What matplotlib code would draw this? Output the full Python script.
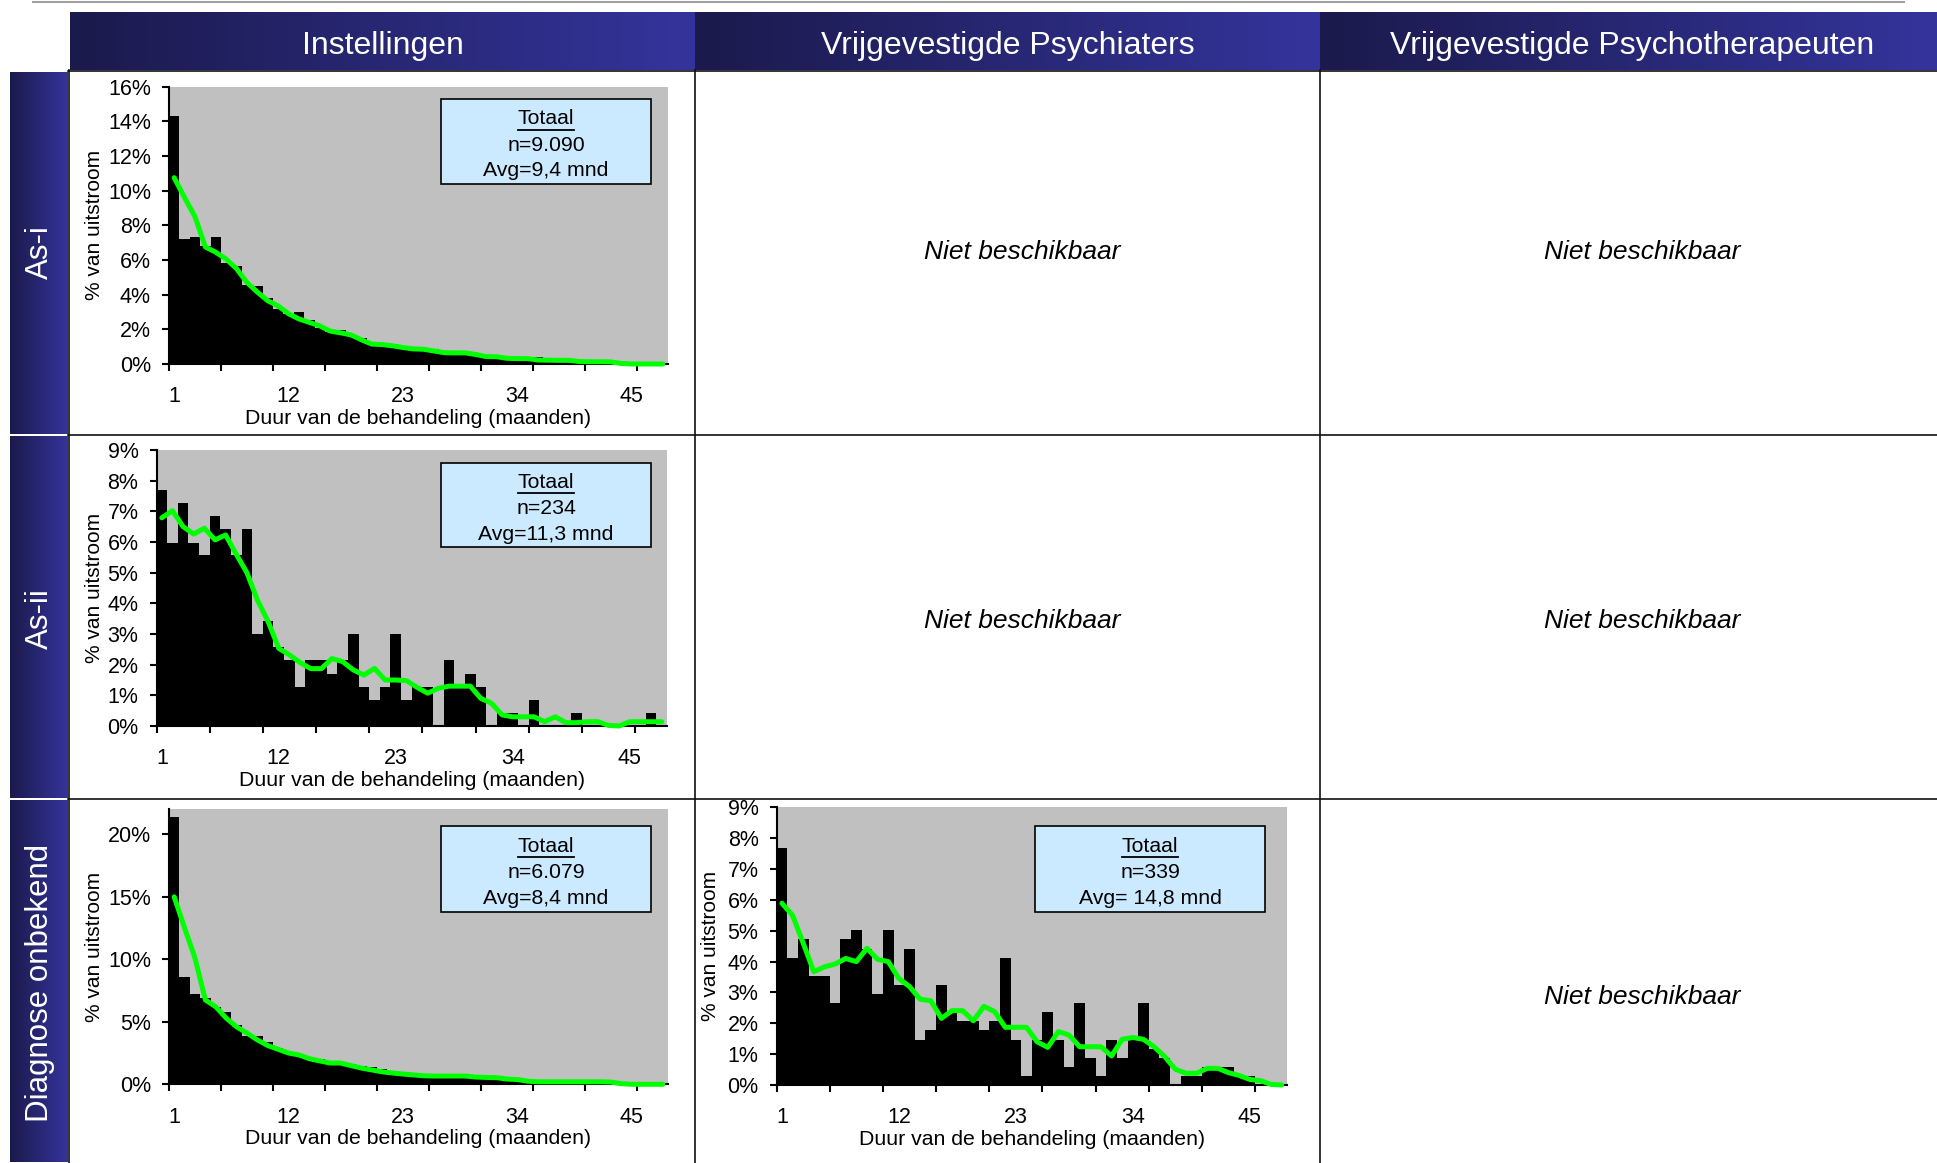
import numpy as np
import matplotlib
matplotlib.use('Agg')
import matplotlib.pyplot as plt
from matplotlib.patches import Rectangle
from matplotlib.lines import Line2D
from matplotlib.colors import LinearSegmentedColormap
from matplotlib.ticker import FuncFormatter

plt.rcParams['font.family'] = ['Liberation Sans', 'DejaVu Sans']

W, H = 1937, 1163

# ---- data (percent of outflow per month of treatment) ----
months = np.arange(1, 49)
xtick_months = [1, 12, 23, 34, 45]

col_titles = ['Instellingen', 'Vrijgevestigde Psychiaters', 'Vrijgevestigde Psychotherapeuten']
row_titles = ['As-i', 'As-ii', 'Diagnose onbekend']

asi_bars = [14.3, 7.2, 7.3, 6.8, 7.3, 5.85, 5.65, 4.55, 4.5, 3.8, 3.15, 2.9, 3.0, 2.55, 2.05, 1.85,
            1.95, 1.65, 1.5, 1.25, 1.15, 1.15, 1.05, 1.0, 0.9, 0.85, 0.75, 0.7, 0.7, 0.6, 0.5, 0.5,
            0.45, 0.35, 0.35, 0.4, 0.25, 0.25, 0.25, 0.2, 0.15, 0.15, 0.1, 0.05, 0.05, 0.05, 0.05, 0.05]
asi_line = [10.75, 9.6, 8.5, 6.75, 6.45, 6.05, 5.5, 4.7, 4.15, 3.65, 3.35, 2.9, 2.6, 2.4, 2.2, 1.9,
            1.8, 1.68, 1.4, 1.15, 1.12, 1.05, 0.95, 0.87, 0.85, 0.75, 0.65, 0.64, 0.64, 0.55, 0.43, 0.42,
            0.33, 0.31, 0.31, 0.23, 0.22, 0.21, 0.21, 0.14, 0.13, 0.13, 0.12, 0.03, 0.0, 0.0, 0.0, 0.0]

asii_bars = [7.69, 5.98, 7.26, 5.98, 5.56, 6.84, 6.41, 5.56, 6.41, 2.99, 3.42, 2.56, 2.14, 1.28, 2.14, 2.14,
             1.71, 2.14, 2.99, 1.28, 0.85, 1.28, 2.99, 0.85, 1.28, 1.28, 0, 2.14, 1.28, 1.71, 1.28, 0,
             0.43, 0.43, 0, 0.85, 0, 0, 0, 0.43, 0, 0, 0, 0, 0, 0, 0.43, 0]
asii_line = [6.79, 7.02, 6.5, 6.26, 6.45, 6.07, 6.23, 5.6, 5.0, 4.1, 3.4, 2.53, 2.32, 2.07, 1.87, 1.87,
             2.2, 2.1, 1.83, 1.66, 1.88, 1.5, 1.5, 1.48, 1.26, 1.07, 1.23, 1.3, 1.3, 1.3, 0.9, 0.74,
             0.36, 0.3, 0.3, 0.3, 0.14, 0.3, 0.11, 0.11, 0.14, 0.14, 0.02, 0.0, 0.14, 0.14, 0.14, 0.14]

onb_inst_bars = [21.36, 8.61, 7.2, 6.9, 6.2, 5.76, 4.75, 3.9, 3.87, 3.36, 2.9, 2.5, 2.3, 2.1, 2.0, 1.85,
                 1.8, 1.65, 1.5, 1.35, 1.2, 1.05, 0.93, 0.82, 0.8, 0.75, 0.7, 0.7, 0.6, 0.55, 0.5, 0.45,
                 0.35, 0.3, 0.25, 0.2, 0.2, 0.15, 0.15, 0.15, 0.1, 0.1, 0.1, 0.05, 0.05, 0.05, 0.05, 0.05]
onb_inst_line = [15.0, 12.5, 10.1, 6.75, 6.2, 5.3, 4.6, 4.1, 3.55, 3.1, 2.8, 2.5, 2.35, 2.05, 1.87, 1.7,
                 1.7, 1.5, 1.3, 1.15, 1.0, 0.9, 0.82, 0.75, 0.68, 0.66, 0.66, 0.66, 0.66, 0.58, 0.55, 0.53,
                 0.42, 0.38, 0.25, 0.2, 0.2, 0.2, 0.2, 0.2, 0.2, 0.2, 0.18, 0.05, 0.0, 0.0, 0.0, 0.0]

onb_psy_bars = [7.67, 4.13, 4.72, 3.54, 3.54, 2.65, 4.72, 5.01, 4.42, 2.95, 5.01, 3.24, 4.42, 1.47, 1.77, 3.24,
                2.36, 2.06, 2.06, 1.77, 2.06, 4.13, 1.47, 0.29, 1.47, 2.36, 1.47, 0.59, 2.65, 0.88, 0.29, 1.47,
                0.88, 1.47, 2.65, 1.18, 0.88, 0, 0.29, 0.29, 0.59, 0.59, 0.59, 0.29, 0.29, 0, 0, 0]
onb_psy_line = [5.89, 5.5, 4.6, 3.67, 3.83, 3.92, 4.1, 4.0, 4.43, 4.07, 4.0, 3.45, 3.19, 2.78, 2.73, 2.16,
                2.41, 2.41, 2.08, 2.55, 2.38, 1.87, 1.87, 1.87, 1.4, 1.22, 1.73, 1.62, 1.24, 1.24, 1.24, 0.94,
                1.48, 1.54, 1.48, 1.24, 0.92, 0.51, 0.38, 0.38, 0.54, 0.54, 0.4, 0.31, 0.18, 0.14, 0.02, 0.0]

box_texts = {
    'asi': ('n=9.090', 'Avg=9,4 mnd'),
    'asii': ('n=234', 'Avg=11,3 mnd'),
    'onb_inst': ('n=6.079', 'Avg=8,4 mnd'),
    'onb_psy': ('n=339', 'Avg= 14,8 mnd'),
}

fig = plt.figure(figsize=(W / 100, H / 100), dpi=100)

# ---- background: header, row strips, grid lines (pixel coords) ----
bg = fig.add_axes([0, 0, 1, 1])
bg.set_zorder(-1)
grad = LinearSegmentedColormap.from_list('hdr', ['#1b1a4c', '#34349c'])
ramp = np.linspace(0, 1, 256).reshape(1, -1)

col_edges = [70, 695, 1320, 1937]
title_x = [383, 1008, 1632]
for i in range(3):
    bg.imshow(ramp, cmap=grad, extent=[col_edges[i], col_edges[i + 1], 70, 12], aspect='auto')
    fig.text(title_x[i] / W, 1 - 46 / H, col_titles[i],
             color='white', fontsize=23, ha='center', va='center')

row_edges = [71, 435, 799, 1163]
for i in range(3):
    bg.imshow(ramp, cmap=grad, extent=[10, 68, row_edges[i + 1] - 1, row_edges[i] + 1], aspect='auto')
row_label_y = [252, 619, 983]
for i in range(3):
    fig.text(40 / W, 1 - row_label_y[i] / H, row_titles[i], color='white', fontsize=22.5,
             rotation=90, ha='center', va='center')

bg.plot([33, 1904], [1.5, 1.5], color='#a0a0a0', lw=1.5)
for y in [70.5, 435, 799]:
    bg.plot([68, W], [y, y], color='#111111', lw=1.2)
for x in [68.5, 695, 1320]:
    bg.plot([x, x], [70, H], color='#111111', lw=1.2)
bg.set_xlim(0, W)
bg.set_ylim(H, 0)
bg.axis('off')

# ---- "Niet beschikbaar" cells ----
for cx, cy in [(1022, 252), (1642, 252), (1022, 621), (1642, 621), (1642, 997)]:
    fig.text(cx / W, 1 - cy / H, 'Niet beschikbaar', fontsize=19, style='italic',
             ha='center', va='center')

pct = FuncFormatter(lambda v, p: '{:.0f}%'.format(v))
underlines = []


def draw_panel(rect, bars, line, ymax, yticks, box, texts, ylabel_x):
    left, top, right, bottom = rect
    ax = fig.add_axes([left / W, 1 - bottom / H, (right - left) / W, (bottom - top) / H])
    ax.set_facecolor('#c0c0c0')
    ax.bar(months, bars, width=1.0, color='black', linewidth=0)
    ax.plot(months, line, color='#00ff00', lw=3.6, solid_joinstyle='round',
            solid_capstyle='round', clip_on=False, zorder=3)
    ax.set_xlim(0.5, 48.5)
    ax.set_ylim(0, ymax)
    ax.set_yticks(yticks)
    ax.yaxis.set_major_formatter(pct)
    ax.set_xticks(np.arange(0.5, 46, 5))
    ax.set_xticklabels([])
    ax.set_xticks(xtick_months, minor=True)
    ax.set_xticklabels([str(m) for m in xtick_months], minor=True)
    ax.tick_params(axis='x', which='major', length=5, width=1.5, direction='out')
    ax.tick_params(axis='x', which='minor', length=0, pad=16, labelsize=15.5)
    ax.tick_params(axis='y', length=5, width=1.5, pad=8, labelsize=15.5)
    for s in ['top', 'right']:
        ax.spines[s].set_visible(False)
    for s in ['left', 'bottom']:
        ax.spines[s].set_linewidth(1.5)
    ax.set_xlabel('Duur van de behandeling (maanden)', fontsize=15.3, labelpad=1)
    fig.text(ylabel_x / W, 1 - (top + bottom) / 2 / H, '% van uitstroom', fontsize=15,
             rotation=90, ha='center', va='center')

    bx0, by0, bx1, by1 = box
    ax.add_patch(Rectangle((bx0 / W, 1 - by1 / H), (bx1 - bx0) / W, (by1 - by0) / H,
                           transform=fig.transFigure, facecolor='#cceaff', edgecolor='black',
                           lw=1.2, clip_on=False, zorder=5))
    cx = (bx0 + bx1) / 2
    step = 26
    ys = [by0 + 20 + step * k for k in range(3)]
    t = fig.text(cx / W, 1 - ys[0] / H, 'Totaal', fontsize=15.3, ha='center', va='center', zorder=6)
    underlines.append(t)
    fig.text(cx / W, 1 - ys[1] / H, texts[0], fontsize=15.3, ha='center', va='center', zorder=6)
    fig.text(cx / W, 1 - ys[2] / H, texts[1], fontsize=15.3, ha='center', va='center', zorder=6)
    return ax


draw_panel((169, 86.7, 668, 364), asi_bars, asi_line, 16, np.arange(0, 17, 2),
           (441, 99, 651, 184), box_texts['asi'], 95)
draw_panel((156.5, 450, 667, 726), asii_bars, asii_line, 9, np.arange(0, 10, 1),
           (441, 463, 651, 547), box_texts['asii'], 95)
draw_panel((169, 809.3, 668, 1084.3), onb_inst_bars, onb_inst_line, 22, [0, 5, 10, 15, 20],
           (441, 826, 651, 912), box_texts['onb_inst'], 95)
draw_panel((776.6, 807.3, 1287, 1085), onb_psy_bars, onb_psy_line, 9, np.arange(0, 10, 1),
           (1035, 826, 1265, 912), box_texts['onb_psy'], 710)

# underline the "Totaal" headings
fig.canvas.draw()
r = fig.canvas.get_renderer()
for t in underlines:
    bb = t.get_window_extent(r)
    yl = bb.y0 - 1
    fig.add_artist(Line2D([bb.x0 / W, bb.x1 / W], [yl / H, yl / H], color='black', lw=1.3, zorder=7))

fig.savefig('out.png', dpi=100)
